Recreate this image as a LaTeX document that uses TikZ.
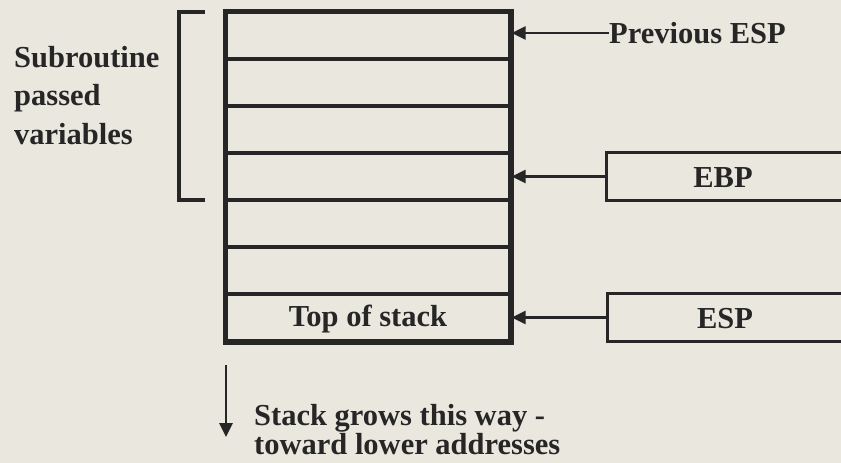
\documentclass[tikz,border=0pt]{standalone}
\usepackage{fontspec}
\setmainfont{Liberation Serif}
\usetikzlibrary{arrows.meta}
\definecolor{paper}{RGB}{233,231,222}
\definecolor{ink}{RGB}{38,38,38}
\begin{document}
\begin{tikzpicture}[x=1pt,y=-1pt,
  cell/.style={draw=ink,line width=3.2pt,rectangle,inner sep=0pt,minimum width=284pt,minimum height=47pt},
  regbox/.style={draw=ink,line width=3.4pt,rectangle,inner sep=0pt,minimum width=238pt,minimum height=48pt,anchor=west},
  lbl/.style={text=ink,inner sep=0pt,font=\fontsize{30.5}{38.5}\selectfont\bfseries},
  ptr/.style={draw=ink,line width=2.8pt,-{Triangle[length=14pt,width=13pt]}}
]
\clip (0,0) rectangle (841,463);
\fill[paper] (0,0) rectangle (841,463);
% stack cells
\node[cell] (r1) at (368,35.5) {};
\node[cell] (r2) at (368,82.5) {};
\node[cell] (r3) at (368,129.5) {};
\node[cell] (r4) at (368,176.5) {};
\node[cell] (r5) at (368,223.5) {};
\node[cell] (r6) at (368,270.5) {};
\node[cell] (r7) at (368,317.5) {};
\node[lbl] (tos) at (368,319) {Top of stack};
\draw[ink,line width=3.8pt] (r1.north west) rectangle (r7.south east);
% bracket
\coordinate (bt) at (205,12);
\coordinate (bb) at (205,200);
\draw[ink,line width=3.8pt] (bt) -- (179,12) -- (179,200) -- (bb);
\node[lbl,align=left,anchor=north west] (sub) at (14,46) {Subroutine\\passed\\variables};
% previous ESP
\node[lbl,anchor=west] (pesp) at (609,33) {Previous ESP};
\coordinate (p1) at (r1.east |- pesp.west);
\draw[ptr] (pesp.west) -- (p1);
% EBP
\node[regbox] (ebp) at (605,176.5) {};
\node[lbl] (ebpt) at (723,178) {EBP};
\coordinate (p2) at (r4.east |- ebp.west);
\draw[ptr] (ebp.west) -- (p2);
% ESP
\node[regbox] (esp) at (606,317.5) {};
\node[lbl] (espt) at (725,319) {ESP};
\coordinate (p3) at (r7.east |- esp.west);
\draw[ptr] (esp.west) -- (p3);
% growth arrow
\coordinate (g1) at (226,365);
\coordinate (g2) at (226,437);
\draw[ptr] (g1) -- (g2);
\node[lbl,align=left,anchor=north west,font=\fontsize{30.5}{29}\selectfont\bfseries] (grow) at (254,404) {Stack grows this way -\\toward lower addresses};
\end{tikzpicture}
\end{document}
